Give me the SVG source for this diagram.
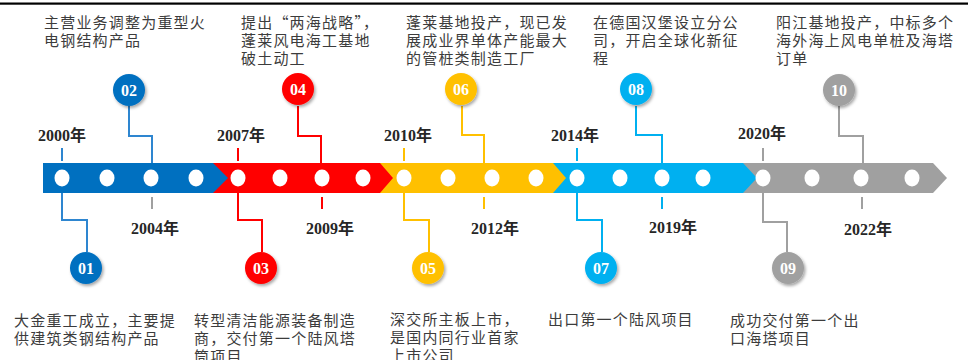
<svg xmlns="http://www.w3.org/2000/svg" width="968" height="360" viewBox="0 0 968 360">
<defs>
<filter id="sh" x="-50%" y="-50%" width="200%" height="200%">
<feDropShadow dx="1.5" dy="2" stdDeviation="1.5" flood-color="#000" flood-opacity="0.35"/>
</filter>
<style>
.desc{font-family:"Noto Sans CJK SC","Noto Sans",sans-serif;font-size:15px;letter-spacing:1.2px;fill:#3c3c3c}
.yr{font-family:"Liberation Serif","Noto Sans CJK SC",serif;font-size:16px;font-weight:bold;fill:#262626;text-anchor:middle}
.num{font-family:"Liberation Serif",serif;font-size:16px;font-weight:bold;fill:#fff;text-anchor:middle}
.dot{fill:#fff}
.ld{fill:none;stroke-width:2}
.b{stroke:#2E86D0}.r{stroke:#FF0000}.y{stroke:#FFC000}.c{stroke:#00B0F0}.g{stroke:#A0A0A0}
</style>
</defs>
<rect x="0" y="2.5" width="968" height="2.2" fill="#000"/>

<g id="bar">
<polygon points="743,163 933,163 947,178 933,193 743,193" fill="#A0A0A0"/>
<polygon points="553,163 743,163 757,178 743,193 553,193" fill="#00B0F0"/>
<polygon points="380,163 553,163 566,178 553,193 380,193" fill="#FFC000"/>
<polygon points="213,163 380,163 393,178 380,193 213,193" fill="#FF0000"/>
<polygon points="43,163 213,163 228,178 213,193 43,193" fill="#0070C0"/>
<g class="dot">
<ellipse cx="62" cy="178" rx="7.5" ry="8.5"/><ellipse cx="107" cy="178" rx="7.5" ry="8.5"/><ellipse cx="151" cy="178" rx="7.5" ry="8.5"/><ellipse cx="196" cy="178" rx="7.5" ry="8.5"/>
<ellipse cx="238" cy="178" rx="7.5" ry="8.5"/><ellipse cx="280" cy="178" rx="7.5" ry="8.5"/><ellipse cx="322" cy="178" rx="7.5" ry="8.5"/><ellipse cx="363" cy="178" rx="7.5" ry="8.5"/>
<ellipse cx="404" cy="178" rx="7.5" ry="8.5"/><ellipse cx="448" cy="178" rx="7.5" ry="8.5"/><ellipse cx="492" cy="178" rx="7.5" ry="8.5"/><ellipse cx="536" cy="178" rx="7.5" ry="8.5"/>
<ellipse cx="577" cy="178" rx="7.5" ry="8.5"/><ellipse cx="620" cy="178" rx="7.5" ry="8.5"/><ellipse cx="662" cy="178" rx="7.5" ry="8.5"/><ellipse cx="703" cy="178" rx="7.5" ry="8.5"/>
<ellipse cx="763" cy="178" rx="7.5" ry="8.5"/><ellipse cx="812" cy="178" rx="7.5" ry="8.5"/><ellipse cx="861" cy="178" rx="7.5" ry="8.5"/><ellipse cx="912" cy="178" rx="7.5" ry="8.5"/>
</g>
</g>

<g id="connectors">
<path class="ld b" d="M62,193 V220 H87 V252"/>
<path class="ld b" d="M129,106 V136 H152 V163"/>
<path class="ld r" d="M238,193 V220 H262 V252"/>
<path class="ld r" d="M298,106 V136 H321 V163"/>
<path class="ld y" d="M404,193 V220 H429 V252"/>
<path class="ld y" d="M462,106 V135 H484 V163"/>
<path class="ld c" d="M577,193 V220 H602 V252"/>
<path class="ld c" d="M636,106 V135 H662 V163"/>
<path class="ld g" d="M763,193 V222 H787 V252"/>
<path class="ld g" d="M839,106 V136 H863 V163"/>
<path class="ld b" d="M62,148 V161"/>
<path class="ld g" d="M152,197 V209"/>
<path class="ld r" d="M238,148 V161"/>
<path class="ld r" d="M322,197 V209"/>
<path class="ld y" d="M404,148 V161"/>
<path class="ld y" d="M484,197 V209"/>
<path class="ld c" d="M577,148 V161"/>
<path class="ld c" d="M662,197 V209"/>
<path class="ld g" d="M763,148 V161"/>
<path class="ld g" d="M862,197 V209"/>
</g>

<g id="years">
<text class="yr" x="62" y="141">2000年</text>
<text class="yr" x="155" y="234">2004年</text>
<text class="yr" x="241" y="141">2007年</text>
<text class="yr" x="330" y="234">2009年</text>
<text class="yr" x="408" y="141">2010年</text>
<text class="yr" x="495" y="234">2012年</text>
<text class="yr" x="575" y="141">2014年</text>
<text class="yr" x="673" y="233">2019年</text>
<text class="yr" x="762" y="139">2020年</text>
<text class="yr" x="868" y="235">2022年</text>
</g>

<g id="n01"><circle cx="86" cy="268" r="16" fill="#0070C0" filter="url(#sh)"/><text class="num" x="86" y="274">01</text>
<text class="desc" x="14" y="326">大金重工成立，主要提</text><text class="desc" x="14" y="344">供建筑类钢结构产品</text></g>
<g id="n02"><circle cx="129" cy="90" r="16" fill="#0070C0" filter="url(#sh)"/><text class="num" x="129" y="96">02</text>
<text class="desc" x="44" y="28">主营业务调整为重型火</text><text class="desc" x="44" y="46">电钢结构产品</text></g>
<g id="n03"><circle cx="261" cy="268" r="16" fill="#FF0000" filter="url(#sh)"/><text class="num" x="261" y="274">03</text>
<text class="desc" x="194" y="326">转型清洁能源装备制造</text><text class="desc" x="194" y="344">商，交付第一个陆风塔</text><text class="desc" x="194" y="362">筒项目</text></g>
<g id="n04"><circle cx="298" cy="89" r="16" fill="#FF0000" filter="url(#sh)"/><text class="num" x="298" y="95">04</text>
<text class="desc" x="241" y="28">提出“两海战略”，</text><text class="desc" x="241" y="46">蓬莱风电海工基地</text><text class="desc" x="241" y="64">破土动工</text></g>
<g id="n05"><circle cx="428" cy="268" r="16" fill="#FFC000" filter="url(#sh)"/><text class="num" x="428" y="274">05</text>
<text class="desc" x="390" y="325">深交所主板上市，</text><text class="desc" x="390" y="343">是国内同行业首家</text><text class="desc" x="390" y="361">上市公司</text></g>
<g id="n06"><circle cx="461" cy="89" r="16" fill="#FFC000" filter="url(#sh)"/><text class="num" x="461" y="95">06</text>
<text class="desc" x="406" y="28">蓬莱基地投产，现已发</text><text class="desc" x="406" y="46">展成业界单体产能最大</text><text class="desc" x="406" y="64">的管桩类制造工厂</text></g>
<g id="n07"><circle cx="601" cy="268" r="16" fill="#00B0F0" filter="url(#sh)"/><text class="num" x="601" y="274">07</text>
<text class="desc" x="548" y="325">出口第一个陆风项目</text></g>
<g id="n08"><circle cx="636" cy="89" r="16" fill="#00B0F0" filter="url(#sh)"/><text class="num" x="636" y="95">08</text>
<text class="desc" x="593" y="28">在德国汉堡设立分公</text><text class="desc" x="593" y="46">司，开启全球化新征</text><text class="desc" x="593" y="64">程</text></g>
<g id="n09"><circle cx="788" cy="268" r="16" fill="#A0A0A0" filter="url(#sh)"/><text class="num" x="788" y="274">09</text>
<text class="desc" x="730" y="326">成功交付第一个出</text><text class="desc" x="730" y="344">口海塔项目</text></g>
<g id="n10"><circle cx="839" cy="90" r="16" fill="#A0A0A0" filter="url(#sh)"/><text class="num" x="839" y="96">10</text>
<text class="desc" x="776" y="28">阳江基地投产，中标多个</text><text class="desc" x="776" y="46">海外海上风电单桩及海塔</text><text class="desc" x="776" y="64">订单</text></g>
</svg>
